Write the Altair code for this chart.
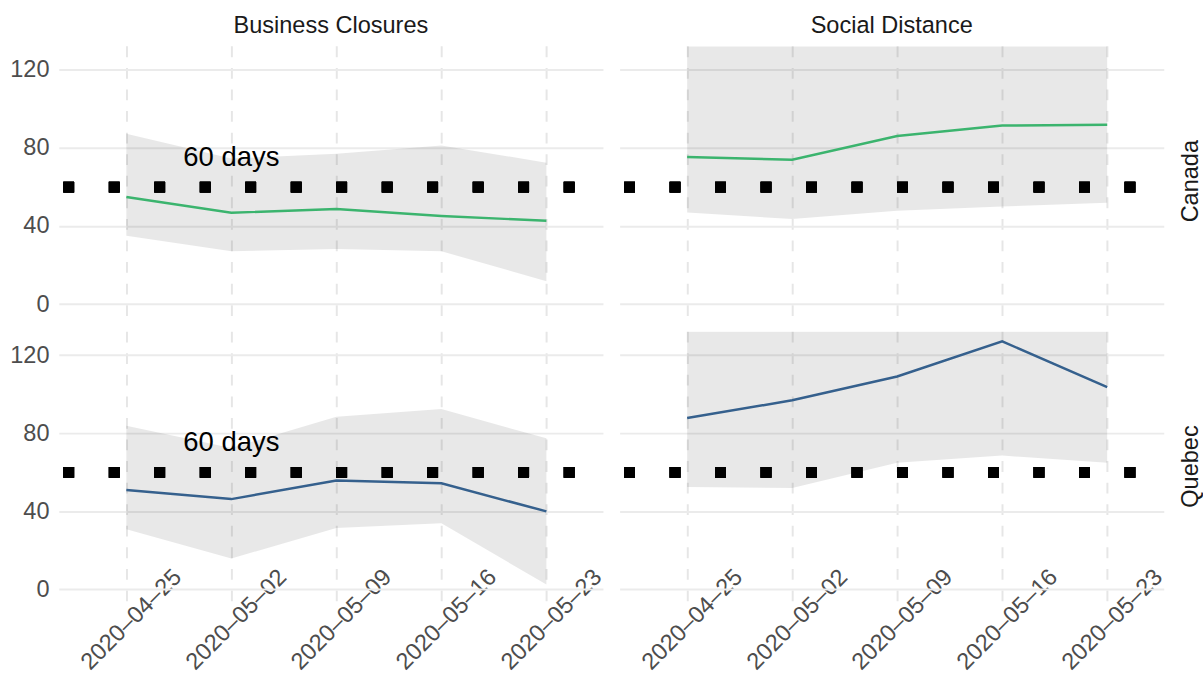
import altair as alt
import pandas as pd

# ---- data ----
dates = ["2020-04-25", "2020-05-02", "2020-05-09", "2020-05-16", "2020-05-23"]

bc_canada_mean = [54.9, 46.8, 48.8, 45.2, 42.7]
bc_canada_low = [35.1, 27.1, 28.3, 27.1, 11.8]
bc_canada_high = [87.3, 74.6, 77.1, 81.3, 72.5]

sd_canada_mean = [75.4, 74.0, 86.1, 91.5, 91.9]
sd_canada_low = [46.9, 43.6, 47.9, 50.0, 52.0]
sd_canada_high = [132, 132, 132, 132, 132]

bc_quebec_mean = [51.0, 46.3, 55.8, 54.4, 40.0]
bc_quebec_low = [30.8, 15.9, 31.5, 33.9, 2.5]
bc_quebec_high = [83.9, 72.5, 88.5, 92.4, 77.4]

sd_quebec_mean = [87.8, 96.9, 109.1, 127.1, 103.7]
sd_quebec_low = [52.5, 52.0, 64.9, 68.6, 64.9]
sd_quebec_high = [132, 132, 132, 132, 132]

measures = ["Business Closures", "Social Distance"]
regions = ["Canada", "Quebec"]
threshold = 60
note_text = "60 days"
note_y = 75
note_panel = "Business Closures"

series = {
    ("Business Closures", "Canada"): (bc_canada_mean, bc_canada_low, bc_canada_high),
    ("Social Distance", "Canada"): (sd_canada_mean, sd_canada_low, sd_canada_high),
    ("Business Closures", "Quebec"): (bc_quebec_mean, bc_quebec_low, bc_quebec_high),
    ("Social Distance", "Quebec"): (sd_quebec_mean, sd_quebec_low, sd_quebec_high),
}

rows = []
for (m, r), (mean, lo, hi) in series.items():
    for i, (d, v, l, h) in enumerate(zip(dates, mean, lo, hi)):
        rows.append({
            "measure": m, "region": r, "date": d, "value": v, "lower": l, "upper": h,
            "note": note_text if (m == note_panel and i == 0) else "",
        })
df = pd.DataFrame(rows)

FONT = "Liberation Sans"
W, H = 555, 276
Y_DOM = [-6.3, 132.3]

x_dom = [
    alt.DateTime(year=2020, month=4, date=20, hours=12, utc=True),
    alt.DateTime(year=2020, month=5, date=26, hours=18, minutes=30, utc=True),
]
x_vals = [alt.DateTime(year=2020, month=int(d[5:7]), date=int(d[8:10]), utc=True) for d in dates]

x_enc = alt.X(
    "date:T",
    scale=alt.Scale(type="utc", domain=x_dom, nice=False),
    axis=alt.Axis(
        title=None,
        values=x_vals,
        labelExpr="utcFormat(datum.value, '%Y\u2013%m\u2013%d')",
        labelAngle=315,
        labelAlign="center",
        labelBaseline="middle",
        labelFontSize=24,
        labelColor="#4D4D4D",
        labelFont=FONT,
        labelPadding=18,
        labelOffset=5,
        labelOverlap=False,
        ticks=False,
        domain=False,
        grid=True,
        gridDash=[11, 11],
        gridColor="#E6E6E6",
        gridWidth=2,
    ),
)
y_enc = alt.Y(
    "value:Q",
    scale=alt.Scale(domain=Y_DOM, nice=False, zero=False),
    axis=alt.Axis(
        title=None,
        values=[0, 40, 80, 120],
        labelFontSize=24,
        labelColor="#4D4D4D",
        labelFont=FONT,
        labelPadding=4,
        ticks=False,
        domain=False,
        grid=True,
        gridColor="#EBEBEB",
        gridWidth=2,
    ),
)

base = alt.Chart()

ribbon = base.mark_area(color="black", opacity=0.09, clip=True).encode(
    x=x_enc,
    y=alt.Y("lower:Q", scale=alt.Scale(domain=Y_DOM, nice=False, zero=False)),
    y2="upper:Q",
)

line = base.mark_line(strokeWidth=2.5, clip=True).encode(
    x=x_enc,
    y=y_enc,
    color=alt.Color(
        "region:N",
        scale=alt.Scale(domain=regions, range=["#3BB46E", "#35608D"]),
        legend=None,
    ),
)

rule = base.mark_rule(color="black", strokeWidth=11, strokeDash=[11, 35.4], strokeDashOffset=17.4).encode(
    y=alt.datum(threshold)
)

note = (
    base.mark_text(fontSize=28, font=FONT, color="black", align="center", baseline="middle")
    .encode(
        x=alt.datum(alt.DateTime(year=2020, month=5, date=2, utc=True)),
        y=alt.datum(note_y),
        text="note:N",
    )
    .transform_filter(alt.datum.note == note_text)
)

layered = alt.layer(ribbon, rule, line, note, data=df).properties(width=W, height=H)

chart = (
    layered.facet(
        column=alt.Column(
            "measure:N",
            sort=measures,
            title=None,
            header=alt.Header(labelFontSize=24, labelFont=FONT, labelColor="#1A1A1A", labelPadding=8),
        ),
        row=alt.Row(
            "region:N",
            sort=regions,
            title=None,
            header=alt.Header(
                orient="right",
                labelOrient="right",
                labelAngle=270,
                labelFontSize=24,
                labelFont=FONT,
                labelColor="#1A1A1A",
                labelPadding=10,
            ),
        ),
        spacing={"row": 15, "column": 5},
    )
    .properties(padding={"left": 9, "top": 8, "right": 0, "bottom": 0}, background="white")
    .configure_view(strokeWidth=0)
)

chart.save("out.html", embed_options={"renderer": "svg", "actions": False})
